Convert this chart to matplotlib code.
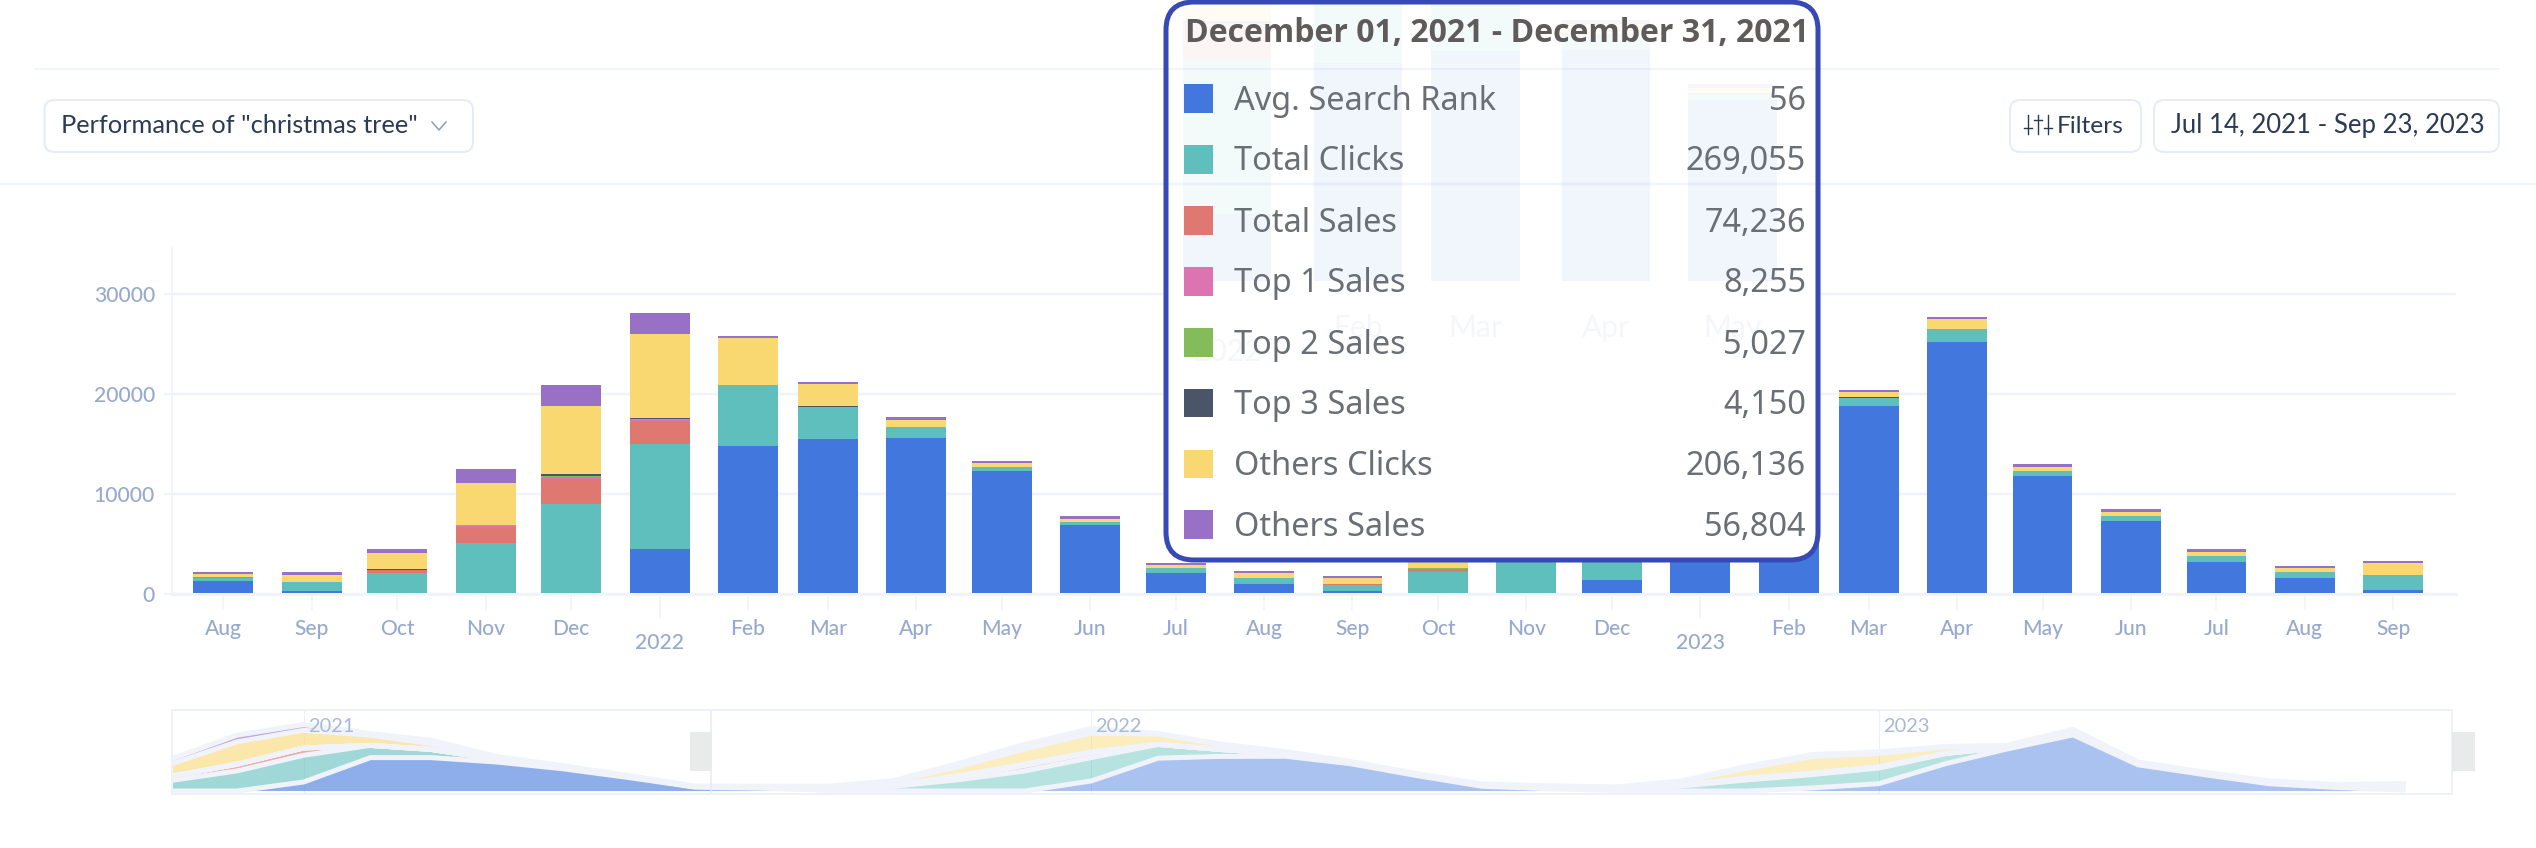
import numpy as np
import pandas as pd
import matplotlib
matplotlib.use('Agg')
import matplotlib.pyplot as plt
import matplotlib.dates as mdates
from matplotlib.patches import FancyBboxPatch, Rectangle


W, H = 2536, 848
UI_FONT = 'Lato'
TIP_FONT = 'Noto Sans'
TITLE_FONT = 'Open Sans'
PT = 0.72  # one pixel in points at dpi=100

# Nov 2020 .. Sep 2023, the overview strip shows all of it, the main chart from Aug 2021
months = pd.date_range('2020-11-01', '2023-09-01', freq='MS')

avg_search_rank = [0, 0, 4050, 15000, 15000, 13000, 10000, 6000, 1800,
                   1300, 300, 50, 0, 0,
                   4510, 14760, 15540, 15620, 12280, 6900, 2130, 1030, 300, 20, 0, 1380,
                   3300, 12300, 18790, 25215, 11800, 7330, 3250, 1600, 430]
total_clicks = [4800, 9000, 12000, 5500, 3700, 1200, 700, 400, 200,
                350, 870, 2030, 5120, 8980,
                10510, 6160, 3160, 1050, 390, 300, 470, 550, 650, 2155, 5000, 6000,
                7000, 4500, 830, 1255, 530, 480, 570, 570, 1480]
total_sales = [1950, 3000, 3300, 0, 0, 0, 0, 0, 0,
               50, 30, 350, 1560, 2480,
               2250, 20, 30, 30, 20, 10, 10, 10, 10, 350, 700, 500,
               500, 100, 30, 30, 10, 10, 10, 10, 10]
top1_sales = [0, 0, 0, 0, 0, 0, 0, 0, 0,
              10, 0, 10, 80, 260,
              130, 0, 0, 0, 0, 0, 0, 0, 0, 20, 40, 30,
              30, 10, 0, 0, 0, 0, 0, 0, 0]
top2_sales = [0, 0, 0, 0, 0, 0, 0, 0, 0,
              10, 0, 10, 100, 130,
              70, 0, 10, 10, 0, 0, 10, 0, 0, 20, 30, 30,
              20, 10, 0, 10, 0, 0, 0, 0, 0]
top3_sales = [0, 0, 0, 0, 0, 0, 0, 0, 0,
              10, 10, 10, 40, 170,
              130, 10, 20, 30, 20, 10, 20, 20, 10, 20, 30, 30,
              20, 10, 10, 20, 10, 10, 10, 10, 10]
others_clicks = [5550, 10050, 7950, 4550, 2600, 700, 400, 250, 100,
                 250, 650, 1690, 4170, 6820,
                 8380, 4640, 2260, 690, 350, 260, 260, 520, 630, 1500, 4500, 7500,
                 6000, 2800, 560, 960, 390, 350, 390, 390, 1130]
others_sales = [2250, 3000, 2550, 750, 1500, 500, 300, 200, 100,
                180, 310, 390, 1470, 2080,
                2080, 260, 220, 260, 260, 310, 220, 190, 240, 400, 800, 900,
                700, 300, 220, 220, 260, 300, 300, 260, 260]

series = [avg_search_rank, total_clicks, total_sales, top1_sales,
          top2_sales, top3_sales, others_clicks, others_sales]
series_names = ['Avg. Search Rank', 'Total Clicks', 'Total Sales', 'Top 1 Sales',
                'Top 2 Sales', 'Top 3 Sales', 'Others Clicks', 'Others Sales']
series_colors = ['#4278de', '#5fbfbc', '#e07872', '#dd73b0',
                 '#84bc5a', '#4b5568', '#f9d872', '#9870c6']
tooltip_values = ['56', '269,055', '74,236', '8,255', '5,027', '4,150', '206,136', '56,804']

y_ticks = [0, 10000, 20000, 30000]
range_start, range_end = '2021-07-14', '2023-09-23'
zoom_start = '2021-07-09'  # left handle of the overview strip sits a little before range_start

AXIS_COLOR = '#f0f3fa'
LABEL_COLOR = '#98a9cf'
BUTTON_EDGE = '#e6ebf8'
BUTTON_TEXT = '#2b3a55'


def px_axes(fig, left, top, right, bottom, **kwargs):
    return fig.add_axes([left / W, 1 - bottom / H, (right - left) / W, (bottom - top) / H], **kwargs)


def draw_bars(ax, alpha=1.0, clip=None):
    x = mdates.date2num(months)
    bottom = np.zeros(len(months))
    for values, color in zip(series, series_colors):
        values = np.array(values, dtype=float)
        bars = ax.bar(x, values, width=21, bottom=bottom, color=color, alpha=alpha, linewidth=0)
        bottom += values
        if clip is not None:
            for b in bars:
                b.set_clip_path(clip)


fig = plt.figure(figsize=(W / 100, H / 100), dpi=100, facecolor='white')

# main chart
ax = px_axes(fig, 172, 248, 2456, 594, zorder=1)
draw_bars(ax)
ax.set_xlim(mdates.date2num(pd.Timestamp(range_start)), mdates.date2num(pd.Timestamp(range_end)))
ax.set_ylim(0, 34600)
ax.set_yticks(y_ticks)
ax.set_yticklabels([str(v) for v in y_ticks], fontfamily=UI_FONT, fontweight='medium',
                   fontsize=21 * PT, color=LABEL_COLOR)
ax.grid(axis='y', color=AXIS_COLOR, linewidth=2.5 * PT)
ax.set_axisbelow(True)
for s in ['top', 'right']:
    ax.spines[s].set_visible(False)
ax.spines['left'].set_color('#eef1f8')
ax.spines['left'].set_linewidth(1.5 * PT)
ax.spines['bottom'].set_color(AXIS_COLOR)
ax.spines['bottom'].set_linewidth(3 * PT)
ax.tick_params(axis='y', length=8 * PT, width=2 * PT, color=AXIS_COLOR, pad=9 * PT)

shown = months[(months >= pd.Timestamp(range_start))]
plain = [m for m in shown if m.month != 1]
years = [m for m in shown if m.month == 1]
ax.set_xticks(mdates.date2num(plain))
ax.set_xticklabels([m.strftime('%b') for m in plain], fontfamily=UI_FONT, fontweight='medium',
                   fontsize=21 * PT, color=LABEL_COLOR)
ax.set_xticks(mdates.date2num(years), minor=True)
ax.set_xticklabels([str(m.year) for m in years], minor=True, fontfamily=UI_FONT, fontweight='medium',
                   fontsize=21 * PT, color=LABEL_COLOR)
ax.tick_params(axis='x', which='major', length=16 * PT, width=1.5 * PT, color=AXIS_COLOR, pad=9 * PT)
ax.tick_params(axis='x', which='minor', length=24 * PT, width=1.5 * PT, color=AXIS_COLOR, pad=15 * PT)

# overview strip below the chart
mini_left, mini_right = 172, 2452
mini = px_axes(fig, mini_left, 710, mini_right, 794, zorder=1)
x_mini = mdates.date2num(months)
cum = np.cumsum(np.array(series, dtype=float), axis=0)
select_x = mdates.date2num(pd.Timestamp(zoom_start))
mini_xlim = (mdates.date2num(pd.Timestamp('2020-11-01')), mdates.date2num(pd.Timestamp(range_end)) + 0.6)
mini.set_xlim(mini_xlim)
mini.set_ylim(-1340, 36400)
outside = Rectangle((mini_xlim[0], -2000), select_x - mini_xlim[0], 40000, transform=mini.transData)
inside = Rectangle((select_x, -2000), mini_xlim[1] - select_x, 40000, transform=mini.transData)
for clip, alpha in [(outside, 0.6), (inside, 0.45)]:
    polys = mini.stackplot(x_mini, series, colors=series_colors, alpha=alpha, linewidth=0)
    for p in polys:
        p.set_clip_path(clip)
for level in cum:
    mini.plot(x_mini, level, color='#f0f3fa', linewidth=5 * PT, solid_joinstyle='miter')
mini.set_xticks(mdates.date2num(pd.to_datetime(['2021-01-01', '2022-01-01', '2023-01-01'])))
mini.set_xticklabels([])
mini.set_yticks([])
mini.tick_params(axis='x', length=0)
mini.grid(axis='x', color='#eceff7', linewidth=1 * PT)
mini.set_axisbelow(True)
mini.axvline(select_x, color='#e6eaf6', linewidth=1.5 * PT)
for s in mini.spines.values():
    s.set_color('#eef1f9')
    s.set_linewidth(2 * PT)
for year in ['2021', '2022', '2023']:
    mini.annotate(year, (mdates.date2num(pd.Timestamp(year + '-01-01')), 1), xycoords=('data', 'axes fraction'),
                  xytext=(3, -6), textcoords='offset points', ha='left', va='top',
                  fontfamily=UI_FONT, fontsize=20 * PT, color='#aab8d8')

# page furniture and tooltip, all in pixel coordinates
ui = fig.add_axes([0, 0, 1, 1], zorder=2)
ui.set_xlim(0, W)
ui.set_ylim(H, 0)
ui.axis('off')
ui.patch.set_alpha(0)

ui.plot([35, 2499], [68.5, 68.5], color='#f2f4fb', linewidth=2 * PT)
ui.plot([0, W], [184, 184], color='#f2f4fb', linewidth=2.5 * PT)

for x0, x1 in [(44.5, 473), (2010, 2141), (2154, 2499)]:
    ui.add_patch(FancyBboxPatch((x0, 100), x1 - x0, 52, boxstyle='round,pad=0,rounding_size=10',
                                facecolor='white', edgecolor=BUTTON_EDGE, linewidth=2 * PT))
ui.text(61, 125.5, 'Performance of "christmas tree"', fontfamily=UI_FONT, fontsize=25.4 * PT,
        color=BUTTON_TEXT, va='center')
ui.plot([432, 439, 446], [122, 130, 122], color='#8d9ab8', linewidth=1.5 * PT)
ui.text(2057, 126.5, 'Filters', fontfamily=UI_FONT, fontsize=24.5 * PT, color=BUTTON_TEXT, va='center')
ui.text(2171, 125.5, 'Jul 14, 2021 - Sep 23, 2023', fontfamily=UI_FONT, fontsize=25.7 * PT,
        color=BUTTON_TEXT, va='center')
for x, knob in [(2028, 128), (2038, 120), (2048, 128)]:
    ui.plot([x, x], [115, 134], color=BUTTON_TEXT, linewidth=1.4 * PT)
    ui.plot([x - 4, x + 4], [knob, knob], color=BUTTON_TEXT, linewidth=1.4 * PT)

# zoom handles of the overview strip
for x0, x1 in [(689.5, 712), (2452, 2475)]:
    ui.add_patch(Rectangle((x0, 732), x1 - x0, 38.5, facecolor='#e9ebeb', edgecolor='none'))

tip_box = FancyBboxPatch((1166, 2), 652, 558, boxstyle='round,pad=0,rounding_size=28',
                         facecolor='white', edgecolor='none')
ui.add_patch(tip_box)

# faint magnified copy of the chart showing through the tooltip
ghost = px_axes(fig, 507, -230, 507 + 2284 * 1.477, 281, zorder=3)
ghost.patch.set_alpha(0)
ghost.axis('off')
draw_bars(ghost, alpha=0.07, clip=tip_box)
ghost.set_xlim(ax.get_xlim())
ghost.set_ylim(0, 34600)
for m in shown[5:10]:
    is_year = m.month == 1
    ghost.annotate(str(m.year) if is_year else m.strftime('%b'),
                   (mdates.date2num(m), 0), xycoords=('data', 'axes fraction'),
                   xytext=(0, -51 if is_year else -34), textcoords='offset points', ha='center', va='center',
                   fontfamily=UI_FONT, fontsize=30 * PT, color='#9fb0d3', alpha=0.1, annotation_clip=False)

top = fig.add_axes([0, 0, 1, 1], zorder=4)
top.set_xlim(0, W)
top.set_ylim(H, 0)
top.axis('off')
top.patch.set_alpha(0)
top.add_patch(FancyBboxPatch((1166, 2), 652, 558, boxstyle='round,pad=0,rounding_size=28',
                             facecolor='none', edgecolor='#3749b5', linewidth=5 * PT))
top.text(1185, 33, 'December 01, 2021 - December 31, 2021', fontfamily=TITLE_FONT, fontweight='bold',
         fontsize=32 * PT, color='#5f5b5a', va='center')
row_y = [98, 159, 220, 281, 342, 402.5, 463.5, 524]
for y, name, value, color in zip(row_y, series_names, tooltip_values, series_colors):
    top.add_patch(Rectangle((1184, y - 14), 28.5, 28.5, facecolor=color, edgecolor='none'))
    top.text(1234, y + 3, name, fontfamily=TIP_FONT, fontsize=32.5 * PT, color='#6a6e75', va='center')
    top.text(1806, y + 3, value, fontfamily=TIP_FONT, fontsize=32.5 * PT, color='#6a6e75', va='center', ha='right')

fig.savefig('out.png', dpi=100)
